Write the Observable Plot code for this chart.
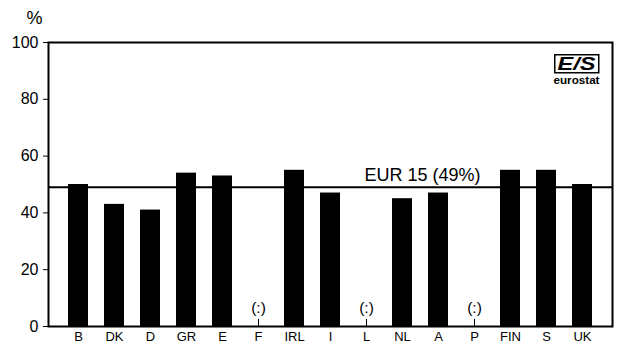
<!DOCTYPE html>
<html>
<head>
<meta charset="utf-8">
<script src="https://cdn.jsdelivr.net/npm/d3@7"></script>
<script src="https://cdn.jsdelivr.net/npm/@observablehq/plot@0.6"></script>
<style>
  html, body { margin: 0; padding: 0; background: #fff; }
  #chart { width: 619px; height: 349px; }
  svg { font-family: "Liberation Sans", Arial, sans-serif; }
  svg [aria-label="y-axis tick label"] text, svg g[aria-label="y-axis"] text { font-size: 16px; }
  svg [aria-label="x-axis tick label"] text, svg g[aria-label="x-axis"] text { font-size: 13px; }
</style>
</head>
<body>
<div id="chart"></div>
<script>
const countries = ["B", "DK", "D", "GR", "E", "F", "IRL", "I", "L", "NL", "A", "P", "FIN", "S", "UK"];
const shares = [50, 43, 41, 54, 53, null, 55, 47, null, 45, 47, null, 55, 55, 50];
const euAverage = 49;
const euLabel = "EUR 15 (49%)";
const missingLabel = "(:)";
const yTicks = [0, 20, 40, 60, 80, 100];
const unitLabel = "%";

const data = countries.map((c, i) => ({country: c, value: shares[i]}));
const present = data.filter(d => d.value != null);
const missing = data.filter(d => d.value == null);

const plot = Plot.plot({
  width: 619,
  height: 349,
  marginLeft: 48,
  marginRight: 7,
  marginTop: 42,
  marginBottom: 23,
  style: {fontFamily: "'Liberation Sans', Arial, sans-serif", background: "white", color: "black"},
  x: {domain: countries, paddingInner: 0.44, paddingOuter: 0.47, tickSize: 0, tickPadding: 5, label: null},
  y: {domain: [0, 100], ticks: yTicks, tickSize: 5, tickPadding: 5, label: null},
  marks: [
    Plot.barY(present, {x: "country", y: "value", fill: "black"}),
    Plot.ruleY([euAverage], {stroke: "black", strokeWidth: 2}),
    Plot.text([euLabel], {x: () => "NL", y: () => euAverage, dx: 20, dy: -6, lineAnchor: "bottom", fontSize: 18, fill: "black"}),
    Plot.text(missing, {x: "country", y: () => 0, text: () => missingLabel, dy: -14, lineAnchor: "bottom", fontSize: 15.5, fill: "black"}),
    Plot.ruleX(missing, {x: "country", y1: () => 0, y2: () => 2.5, stroke: "black", strokeWidth: 1}),
    Plot.text([unitLabel], {frameAnchor: "top-left", dx: -22, dy: -19, lineAnchor: "bottom", fontSize: 18, fill: "black"}),
    Plot.frame({stroke: "black", strokeWidth: 2})
  ]
});

// eurostat logo (decoration)
const svg = d3.select(plot);
const logo = svg.append("g").attr("transform", "translate(554,54)");
logo.append("rect").attr("x", 0.75).attr("y", 0.75).attr("width", 44).attr("height", 18)
  .attr("fill", "white").attr("stroke", "black").attr("stroke-width", 1.5);
logo.append("text").attr("x", 22.5).attr("y", 16).attr("text-anchor", "middle")
  .attr("font-size", 18).attr("font-weight", "bold").attr("font-style", "italic").attr("fill", "black")
  .attr("textLength", 38).attr("lengthAdjust", "spacingAndGlyphs")
  .attr("font-family", "'Liberation Sans', Arial, sans-serif").text("E/S");
logo.append("text").attr("x", 22.5).attr("y", 30).attr("text-anchor", "middle")
  .attr("font-size", 10).attr("font-weight", "bold").attr("fill", "black")
  .attr("textLength", 46).attr("lengthAdjust", "spacingAndGlyphs")
  .attr("font-family", "'Liberation Sans', Arial, sans-serif").text("eurostat");

document.getElementById("chart").appendChild(plot);
</script>
</body>
</html>
